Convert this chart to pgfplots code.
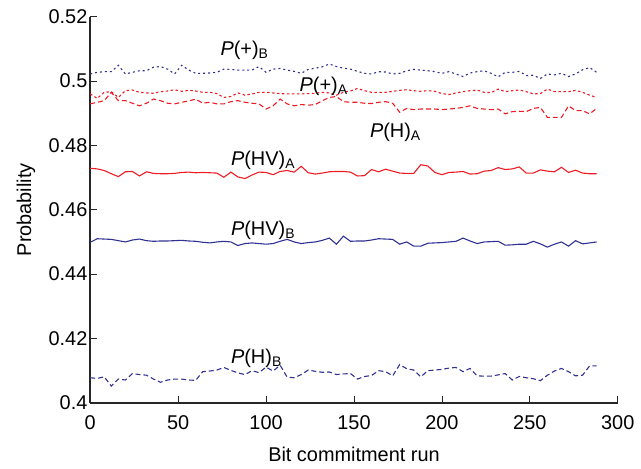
\documentclass[border=0pt]{standalone}
\usepackage{pgfplots}
\pgfplotsset{compat=1.18}
\usepackage{pgfplotstable}
\usepackage{fontspec}
\setmainfont{Liberation Sans}
\definecolor{cred}{RGB}{237,28,36}
\definecolor{cblue}{RGB}{46,49,146}
\pgfplotstableread{
x HVA HVB HB
0 0.4729 0.4499 0.4078
4 0.4727 0.4510 0.4076
8 0.4722 0.4509 0.4081
12 0.4712 0.4508 0.4052
16 0.4703 0.4504 0.4074
20 0.4718 0.4500 0.4071
24 0.4719 0.4506 0.4091
28 0.4705 0.4509 0.4088
32 0.4718 0.4504 0.4086
36 0.4713 0.4502 0.4074
40 0.4712 0.4503 0.4064
44 0.4712 0.4503 0.4071
48 0.4713 0.4504 0.4074
52 0.4716 0.4505 0.4074
56 0.4717 0.4503 0.4071
60 0.4715 0.4502 0.4070
64 0.4716 0.4499 0.4097
68 0.4715 0.4497 0.4099
72 0.4714 0.4500 0.4102
76 0.4701 0.4502 0.4110
80 0.4717 0.4500 0.4101
84 0.4702 0.4489 0.4093
88 0.4697 0.4495 0.4088
92 0.4708 0.4497 0.4100
96 0.4717 0.4495 0.4094
100 0.4716 0.4493 0.4111
104 0.4709 0.4495 0.4099
108 0.4719 0.4502 0.4117
112 0.4722 0.4508 0.4080
116 0.4717 0.4500 0.4078
120 0.4735 0.4495 0.4088
124 0.4715 0.4498 0.4102
128 0.4711 0.4500 0.4098
132 0.4714 0.4505 0.4095
136 0.4718 0.4512 0.4096
140 0.4719 0.4493 0.4088
144 0.4719 0.4518 0.4090
148 0.4717 0.4502 0.4091
152 0.4705 0.4503 0.4074
156 0.4706 0.4503 0.4082
160 0.4725 0.4506 0.4085
164 0.4718 0.4510 0.4100
168 0.4726 0.4509 0.4097
172 0.4720 0.4508 0.4084
176 0.4714 0.4493 0.4119
180 0.4713 0.4500 0.4106
184 0.4713 0.4487 0.4102
188 0.4740 0.4487 0.4081
192 0.4736 0.4496 0.4100
196 0.4716 0.4497 0.4102
200 0.4709 0.4498 0.4104
204 0.4716 0.4500 0.4108
208 0.4717 0.4502 0.4110
212 0.4719 0.4512 0.4097
216 0.4711 0.4503 0.4107
220 0.4712 0.4495 0.4084
224 0.4720 0.4500 0.4083
228 0.4722 0.4501 0.4083
232 0.4731 0.4502 0.4087
236 0.4725 0.4490 0.4091
240 0.4727 0.4491 0.4071
244 0.4733 0.4493 0.4082
248 0.4714 0.4493 0.4078
252 0.4714 0.4502 0.4075
256 0.4724 0.4494 0.4069
260 0.4720 0.4484 0.4086
264 0.4718 0.4493 0.4099
268 0.4732 0.4500 0.4107
272 0.4716 0.4487 0.4097
276 0.4723 0.4504 0.4084
280 0.4714 0.4494 0.4086
284 0.4712 0.4497 0.4115
288 0.4712 0.4500 0.4115
}\lowtab
\pgfplotstableread{
x PB PA HA
0 0.5022 0.4960 0.4929
4 0.5027 0.4946 0.4934
8 0.5029 0.4965 0.4939
12 0.5029 0.4967 0.4965
16 0.5049 0.4949 0.4939
20 0.5022 0.4970 0.4939
24 0.5027 0.4972 0.4931
28 0.5032 0.4965 0.4923
32 0.5032 0.4963 0.4931
36 0.5043 0.4962 0.4944
40 0.5045 0.4967 0.4939
44 0.5037 0.4969 0.4931
48 0.5022 0.4973 0.4929
52 0.5049 0.4968 0.4934
56 0.5034 0.4971 0.4938
60 0.5024 0.4969 0.4944
64 0.5024 0.4965 0.4931
68 0.5025 0.4965 0.4934
72 0.5027 0.4961 0.4929
76 0.5037 0.4949 0.4929
80 0.5036 0.4952 0.4936
84 0.5034 0.4963 0.4939
88 0.5034 0.4956 0.4934
92 0.5034 0.4960 0.4931
96 0.5045 0.4965 0.4929
100 0.5027 0.4965 0.4913
104 0.5037 0.4963 0.4923
108 0.5039 0.4961 0.4944
112 0.5034 0.4960 0.4929
116 0.5030 0.4960 0.4923
120 0.5024 0.4960 0.4927
124 0.5036 0.4961 0.4925
128 0.5040 0.4962 0.4927
132 0.5044 0.4965 0.4939
136 0.5053 0.4963 0.4949
140 0.5045 0.4956 0.4952
144 0.5040 0.4965 0.4936
148 0.5037 0.4969 0.4934
152 0.5030 0.4977 0.4934
156 0.5024 0.4970 0.4931
160 0.5022 0.4965 0.4930
164 0.5029 0.4965 0.4934
168 0.5028 0.4965 0.4936
172 0.5022 0.4968 0.4931
176 0.5024 0.4971 0.4903
180 0.5032 0.4973 0.4915
184 0.5036 0.4970 0.4911
188 0.5034 0.4968 0.4913
192 0.5032 0.4970 0.4913
196 0.5029 0.4968 0.4913
200 0.5024 0.4961 0.4911
204 0.5029 0.4958 0.4913
208 0.5022 0.4963 0.4915
212 0.5014 0.4967 0.4918
216 0.5025 0.4970 0.4923
220 0.5029 0.4972 0.4915
224 0.5032 0.4965 0.4913
228 0.5024 0.4964 0.4911
232 0.5013 0.4975 0.4913
236 0.5027 0.4967 0.4898
240 0.5027 0.4970 0.4905
244 0.5030 0.4972 0.4906
248 0.5017 0.4967 0.4905
252 0.5018 0.4960 0.4915
256 0.5008 0.4961 0.4918
260 0.5022 0.4975 0.4887
264 0.5019 0.4967 0.4887
268 0.5024 0.4967 0.4887
272 0.5014 0.4967 0.4923
276 0.5022 0.4971 0.4908
280 0.5035 0.4965 0.4908
284 0.5042 0.4956 0.4898
288 0.5027 0.4949 0.4915
}\hightab
\begin{document}
\fontsize{20}{24}\selectfont
\begin{tikzpicture}
\begin{axis}[
  scale only axis,
  width=530pt, height=388pt,
  xmin=0, xmax=300, ymin=0.4, ymax=0.52,
  axis x line*=bottom, axis y line*=left,
  axis line style={line width=1.6pt, black!85},
  tick style={line width=0.8pt, black!85},
  major tick length=7pt,
  tick align=inside,
  xtick={0,50,...,300},
  ytick={0.4,0.42,...,0.52},
  yticklabels={0.4,0.42,0.44,0.46,0.48,0.5,0.52},
  xticklabel style={font=\fontsize{20}{24}\selectfont, yshift=-6pt},
  yticklabel style={font=\fontsize{20}{24}\selectfont, xshift=4pt},
  /pgf/number format/assume math mode=true,
  xlabel={Bit commitment run},
  ylabel={Probability},
  label style={font=\fontsize{20}{24}\selectfont},
  xlabel style={yshift=-4pt},
  clip=false,
  every axis plot/.append style={line width=1.1pt},
]
\addplot[cblue, dash pattern=on 2pt off 3pt] table[x=x,y=PB] {\hightab};
\addplot[cred, dash pattern=on 2.5pt off 2.5pt] table[x=x,y=PA] {\hightab};
\addplot[cred, dash pattern=on 5pt off 3pt] table[x=x,y=HA] {\hightab};
\addplot[cred] table[x=x,y=HVA] {\lowtab};
\addplot[cblue] table[x=x,y=HVB] {\lowtab};
\addplot[cblue, dash pattern=on 5pt off 3pt] table[x=x,y=HB] {\lowtab};
\node[anchor=base west, inner sep=0pt] at (axis cs:74,0.5080) {\textit{P}(+)\textsubscript{B}};
\node[anchor=base west, inner sep=0pt] at (axis cs:119,0.4969) {\textit{P}(+)\textsubscript{A}};
\node[anchor=base west, inner sep=0pt] at (axis cs:159,0.4826) {\textit{P}(H)\textsubscript{A}};
\node[anchor=base west, inner sep=0pt] at (axis cs:80,0.4739) {\textit{P}(HV)\textsubscript{A}};
\node[anchor=base west, inner sep=0pt] at (axis cs:80,0.4519) {\textit{P}(HV)\textsubscript{B}};
\node[anchor=base west, inner sep=0pt] at (axis cs:80,0.4122) {\textit{P}(H)\textsubscript{B}};
\end{axis}
\path (current bounding box.south west) ++(-10pt,0pt);
\path (current bounding box.north west) ++(0pt,3pt);
\end{tikzpicture}
\end{document}
